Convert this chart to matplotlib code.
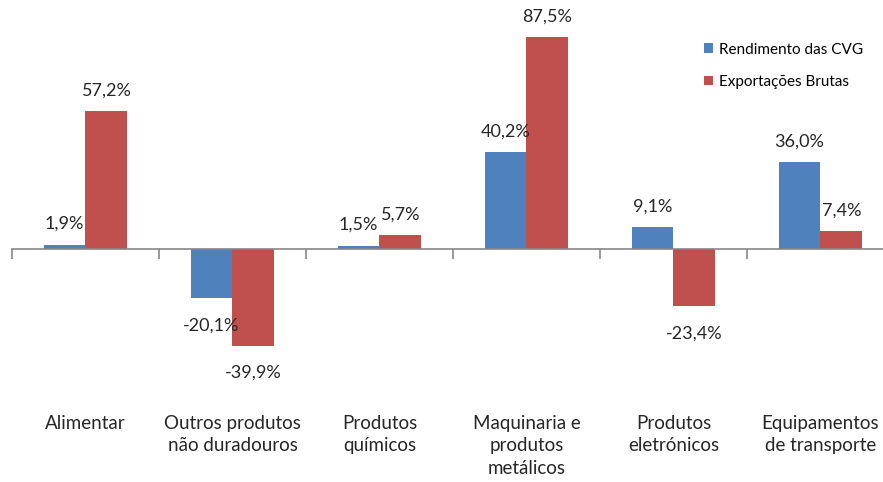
import matplotlib

matplotlib.use("Agg")
import matplotlib.pyplot as plt
import matplotlib.transforms as mtransforms
import numpy as np

plt.rcParams["font.family"] = ["Lato", "DejaVu Sans"]

categories = ["Alimentar", "Outros produtos\nnão duradouros", "Produtos\nquímicos",
              "Maquinaria e\nprodutos\nmetálicos", "Produtos\neletrónicos",
              "Equipamentos\nde transporte"]
rendimento = [1.9, -20.1, 1.5, 40.2, 9.1, 36.0]
exportacoes = [57.2, -39.9, 5.7, 87.5, -23.4, 7.4]
series_names = ["Rendimento das CVG", "Exportações Brutas"]

BLUE = "#4F81BD"
RED = "#C0504D"
GREY = "#868686"


def fmt(v):
    return f"{v:.1f}%".replace(".", ",")


fig = plt.figure(figsize=(8.83, 4.82), dpi=100)
ax = fig.add_axes([12 / 883, 0.182, 882 / 883, 0.803])

x = np.arange(len(categories))
w = 0.285
b1 = ax.bar(x - w / 2, rendimento, w, color=BLUE, label=series_names[0])
b2 = ax.bar(x + w / 2, exportacoes, w, color=RED, label=series_names[1])

for bars, vals in ((b1, rendimento), (b2, exportacoes)):
    for r, v in zip(bars, vals):
        cx = r.get_x() + r.get_width() / 2
        off = 9 if v >= 0 else -14
        ax.annotate(fmt(v), (cx, v), xytext=(0, off), textcoords="offset points",
                    ha="center", va="bottom" if v >= 0 else "top", fontsize=13,
                    color="#262626")

ax.set_xlim(-0.5, len(categories) - 0.5)
ax.set_ylim(-60, 100)
for s in ("top", "right", "left"):
    ax.spines[s].set_visible(False)
ax.spines["bottom"].set_position(("data", 0))
ax.spines["bottom"].set_color(GREY)
ax.spines["bottom"].set_linewidth(1.2)
ax.set_yticks([])
ax.set_xticks(np.arange(-0.5, len(categories)))
ax.set_xticklabels([])
ax.tick_params(axis="x", direction="out", length=7, width=1.2, color=GREY)

trans = mtransforms.blended_transform_factory(ax.transData, fig.transFigure)
for xi, lab in zip(x, categories):
    ax.text(xi, 1 - 415 / 482, lab, transform=trans, ha="center", va="top",
            fontsize=13.5, linespacing=1.38, color="#262626")

ax.legend(loc="upper left", bbox_to_anchor=(690 / 883, 0.94), bbox_transform=fig.transFigure,
          frameon=False, fontsize=11, handlelength=0.6, handleheight=0.6,
          handletextpad=0.4, labelspacing=1.2)

fig.savefig("out.png", dpi=100)
